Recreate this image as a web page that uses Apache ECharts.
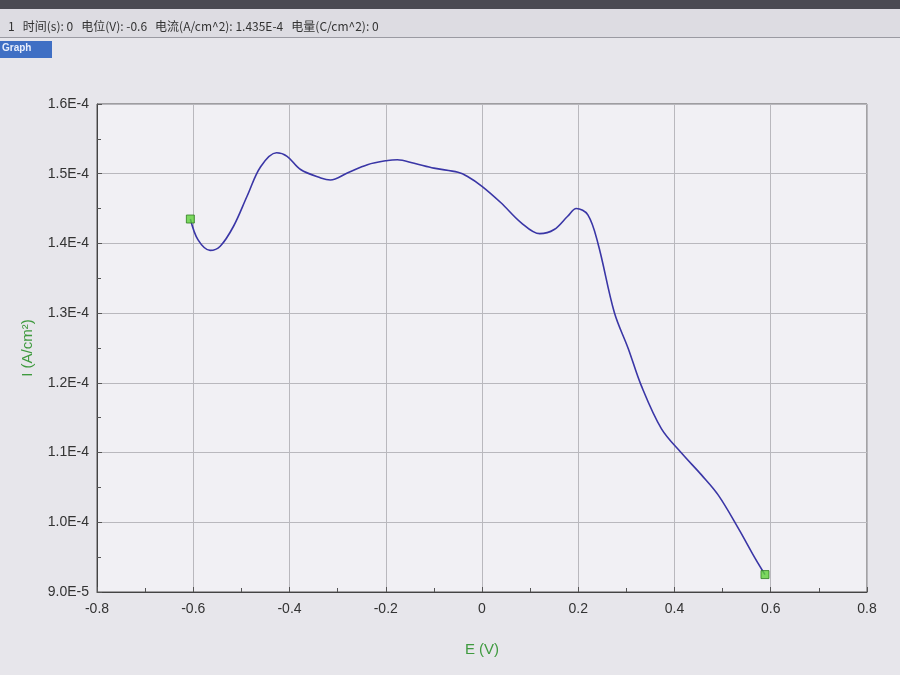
<!DOCTYPE html>
<html>
<head>
<meta charset="utf-8">
<script src="https://cdn.jsdelivr.net/npm/echarts@6/dist/echarts.min.js"></script>
<style>
  html, body { margin: 0; padding: 0; background: #e7e6eb; }
  #main { width: 900px; height: 675px; }
</style>
</head>
<body>
<div id="main"></div>
<script>
// 电位 E (V)
var potential = [-0.606, -0.59, -0.565, -0.544, -0.516, -0.488, -0.46, -0.427, -0.405, -0.377,
  -0.335, -0.315, -0.28, -0.238, -0.196, -0.176, -0.141, -0.1, -0.05, -0.03,
  0.0, 0.04, 0.081, 0.12, 0.15, 0.178, 0.196, 0.22, 0.241, 0.275,
  0.304, 0.331, 0.373, 0.415, 0.456, 0.491, 0.533, 0.567, 0.588];
// 电流 I (A/cm^2)
var current = [1.435e-4, 1.405e-4, 1.390e-4, 1.396e-4, 1.425e-4, 1.468e-4, 1.510e-4, 1.530e-4, 1.525e-4, 1.506e-4,
  1.494e-4, 1.491e-4, 1.501e-4, 1.513e-4, 1.519e-4, 1.520e-4, 1.515e-4, 1.508e-4, 1.502e-4, 1.496e-4,
  1.482e-4, 1.458e-4, 1.430e-4, 1.414e-4, 1.420e-4, 1.439e-4, 1.450e-4, 1.441e-4, 1.400e-4, 1.301e-4,
  1.249e-4, 1.196e-4, 1.134e-4, 1.099e-4, 1.068e-4, 1.039e-4, 0.991e-4, 0.949e-4, 0.925e-4];
// 首末点标记
var endpointIdx = [0, potential.length - 1];
var statusText = "1   时间(s): 0   电位(V): -0.6   电流(A/cm^2): 1.435E-4   电量(C/cm^2): 0";

// 以 1E-5 为单位绘图，刻度为整数
var SCALE = 1e5;
var lineData = potential.map(function (e, i) { return [e, current[i] * SCALE]; });
var markData = endpointIdx.map(function (i) { return lineData[i]; });

var myChart = echarts.init(document.getElementById("main"));
var option = {
  backgroundColor: "#e7e6eb",
  animation: false,
  textStyle: { fontFamily: "'Liberation Sans', Arial, sans-serif" },
  graphic: [
    { type: "rect", left: 0, top: 0, shape: { width: 900, height: 9 }, style: { fill: "#4a4a52" } },
    { type: "rect", left: 0, top: 9, shape: { width: 900, height: 29 }, style: { fill: "#dddce2" } },
    { type: "rect", left: 0, top: 37, shape: { width: 900, height: 1 }, style: { fill: "#9a9aa2" } },
    { type: "text", left: 8, top: 20, style: { text: statusText, fill: "#333", font: "12px 'Noto Sans CJK SC', sans-serif" } },
    { type: "rect", left: 0, top: 41, shape: { width: 52, height: 17 }, style: { fill: "#3f6fc4" } },
    { type: "text", left: 2, top: 43, style: { text: "Graph", fill: "#e8eefc", font: "bold 10px sans-serif" } }
  ],
  grid: {
    left: 97,
    right: 33,
    top: 104,
    bottom: 83,
    show: true,
    backgroundColor: "#f1f0f4",
    borderColor: "#555",
    borderWidth: 1
  },
  xAxis: {
    type: "value",
    min: -0.8,
    max: 0.8,
    interval: 0.2,
    name: "E (V)",
    nameLocation: "middle",
    nameGap: 50,
    nameTextStyle: { color: "#3f9a3f", fontSize: 15 },
    axisLine: { onZero: false, lineStyle: { color: "#444" } },
    axisTick: { inside: true, length: 5, lineStyle: { color: "#555" } },
    minorTick: { show: true, splitNumber: 2, length: 4, lineStyle: { color: "#555" } },
    axisLabel: {
      color: "#333", fontSize: 14, margin: 10,
      formatter: function (v) { return Math.abs(v) < 1e-9 ? "0" : v.toFixed(1); }
    },
    splitLine: { show: true, lineStyle: { color: "#b9b8bd", width: 1 } }
  },
  yAxis: {
    type: "value",
    min: 9,
    max: 16,
    interval: 1,
    name: "I (A/cm²)",
    nameLocation: "middle",
    nameGap: 62,
    nameRotate: 90,
    nameTextStyle: { color: "#3f9a3f", fontSize: 15 },
    axisLine: { show: true, onZero: false, lineStyle: { color: "#444" } },
    axisTick: { show: true, inside: true, length: 5, lineStyle: { color: "#555" } },
    minorTick: { show: true, splitNumber: 2, length: 4, lineStyle: { color: "#555" } },
    axisLabel: {
      color: "#333", fontSize: 14, margin: 8,
      formatter: function (v) { return (v / SCALE).toExponential(1).toUpperCase(); }
    },
    splitLine: { show: true, lineStyle: { color: "#b9b8bd", width: 1 } }
  },
  series: [
    {
      type: "line",
      data: lineData,
      smooth: 0.35,
      showSymbol: false,
      lineStyle: { color: "#3a36a6", width: 1.6 }
    },
    {
      type: "scatter",
      data: markData,
      symbol: "rect",
      symbolSize: 8,
      itemStyle: { color: "#5fd23a", borderColor: "#2f7d22", borderWidth: 1 },
      z: 5
    }
  ]
};
myChart.setOption(option);
</script>
</body>
</html>
